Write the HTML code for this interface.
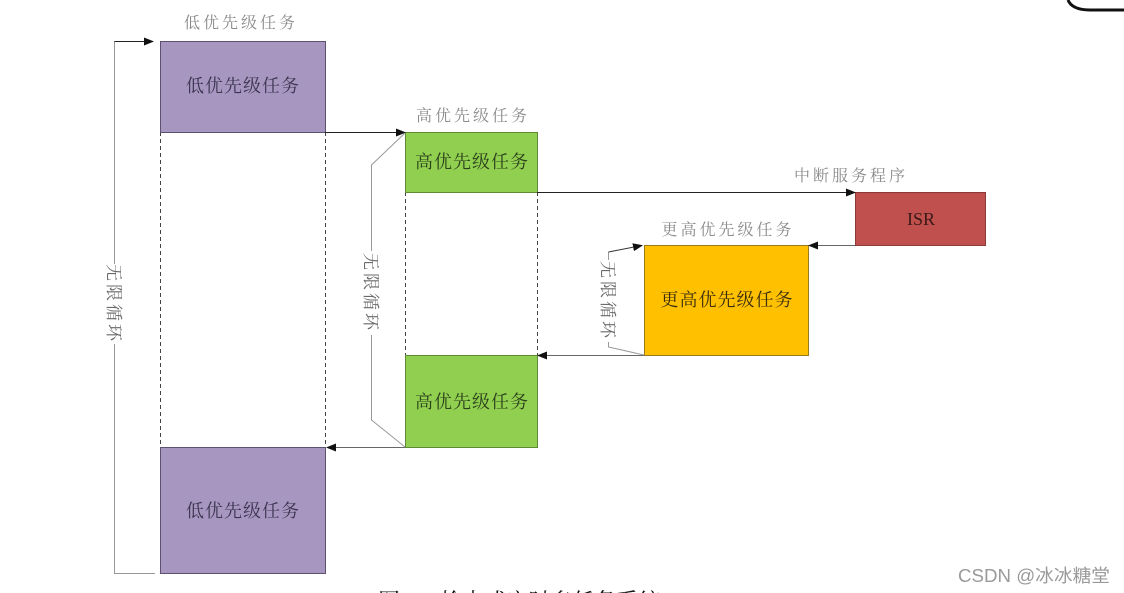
<!DOCTYPE html>
<html><head><meta charset="utf-8"><style>
html,body{margin:0;padding:0;background:#fff;width:1124px;height:593px;overflow:hidden}
svg{display:block}
.lbl{font-family:"Liberation Serif","Noto Serif CJK SC",serif;font-size:16px;fill:#8a8a8a;letter-spacing:3px}
.bx{font-family:"Liberation Serif","Noto Serif CJK SC",serif;font-size:18px;letter-spacing:1px}
.loop{font-family:"Liberation Serif","Noto Serif CJK SC",serif;font-size:17px;fill:#6a6a6a;letter-spacing:3px}
</style></head><body>
<svg width="1124" height="593" viewBox="0 0 1124 593" xmlns="http://www.w3.org/2000/svg">
<defs>
<marker id="ar" markerWidth="10" markerHeight="8" refX="9" refY="4" orient="auto" markerUnits="userSpaceOnUse">
<path d="M0,0 L10,4 L0,8 Z" fill="#111"/>
</marker>
</defs>

<!-- top-right curve -->
<path d="M1068,0 Q1072,10 1090,10 L1124,10" fill="none" stroke="#111" stroke-width="3"/>

<!-- dashed guide lines -->
<g stroke="#444" stroke-width="1" stroke-dasharray="4,3">
<line x1="160.5" y1="132" x2="160.5" y2="447"/>
<line x1="325.5" y1="132" x2="325.5" y2="447"/>
<line x1="405.5" y1="192" x2="405.5" y2="355"/>
<line x1="537.5" y1="192" x2="537.5" y2="355"/>
</g>

<!-- boxes -->
<rect x="160.5" y="41.5" width="165" height="91" fill="#a797c0" stroke="#5c5270" stroke-width="1"/>
<rect x="160.5" y="447.5" width="165" height="126" fill="#a797c0" stroke="#5c5270" stroke-width="1"/>
<rect x="405.5" y="132.5" width="132" height="60" fill="#90cf4f" stroke="#5f8a35" stroke-width="1"/>
<rect x="405.5" y="355.5" width="132" height="92" fill="#90cf4f" stroke="#5f8a35" stroke-width="1"/>
<rect x="855.5" y="192.5" width="130" height="53" fill="#c0504d" stroke="#8a3a37" stroke-width="1"/>
<rect x="644.5" y="245.5" width="164" height="110" fill="#ffc000" stroke="#9a7a20" stroke-width="1"/>

<!-- box texts -->
<g class="bx" text-anchor="middle">
<text x="243" y="92" fill="#3b3450">低优先级任务</text>
<text x="243" y="517" fill="#3b3450">低优先级任务</text>
<text x="472" y="168" fill="#2c3f1c">高优先级任务</text>
<text x="472" y="408" fill="#2c3f1c">高优先级任务</text>
<text x="727" y="306" fill="#3a2e10">更高优先级任务</text>
</g>
<text x="921" y="225" text-anchor="middle" style="font-family:'Liberation Serif',serif;font-size:18px" fill="#3a1a18">ISR</text>

<!-- labels above -->
<g class="lbl" text-anchor="middle">
<text x="241" y="28">低优先级任务</text>
<text x="473" y="121">高优先级任务</text>
<text x="851" y="181">中断服务程序</text>
<text x="728" y="235">更高优先级任务</text>
</g>

<!-- arrows -->
<g stroke="#222" stroke-width="1" fill="none">
<line x1="114" y1="41.5" x2="153" y2="41.5" marker-end="url(#ar)"/>
<line x1="325" y1="132.5" x2="405" y2="132.5" marker-end="url(#ar)"/>
<line x1="537" y1="192.5" x2="855" y2="192.5" marker-end="url(#ar)"/>
</g>
<g stroke="#666" stroke-width="1" fill="none">
<line x1="855" y1="245.5" x2="809" y2="245.5" marker-end="url(#ar)"/>
<line x1="644" y1="355.5" x2="538" y2="355.5" marker-end="url(#ar)"/>
<line x1="405" y1="447.5" x2="327" y2="447.5" marker-end="url(#ar)"/>
</g>

<!-- loops -->
<g stroke="#999" stroke-width="1" fill="none">
<polyline points="114.5,41.5 114.5,573.5 155,573.5"/>
<polyline points="405,133 371.5,165 371.5,420 405,447"/>
<polyline points="608.5,252 608.5,347 644,355"/>
</g>
<line x1="608.5" y1="252" x2="642" y2="245.5" stroke="#333" stroke-width="1" marker-end="url(#ar)"/>

<!-- loop text backgrounds -->
<rect x="103" y="264" width="22" height="80" fill="#fff"/>
<rect x="360" y="251" width="22" height="84" fill="#fff"/>
<rect x="597" y="260" width="22" height="82" fill="#fff"/>
<g class="loop" text-anchor="middle">
<text transform="translate(108,304) rotate(90)">无限循环</text>
<text transform="translate(365,293) rotate(90)">无限循环</text>
<text transform="translate(602,301) rotate(90)">无限循环</text>
</g>

<!-- watermark -->
<text x="958" y="582" textLength="152" lengthAdjust="spacingAndGlyphs" style="font-family:'Liberation Sans','Noto Sans CJK SC',sans-serif;font-size:18px" fill="#9a9a9a">CSDN @冰冰糖堂</text>

<!-- cut-off caption -->
<text x="378" y="609" style="font-family:'Liberation Serif','Noto Serif CJK SC',serif;font-size:22px" fill="#111">图 2-3 抢占式实时多任务系统</text>
</svg>
</body></html>
